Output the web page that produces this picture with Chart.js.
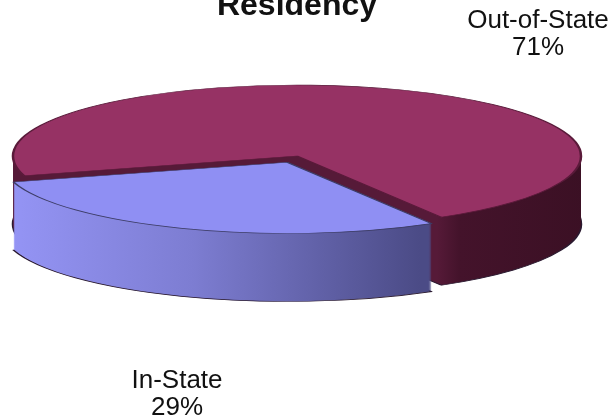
<!DOCTYPE html>
<html>
<head>
<meta charset="utf-8">
<script src="https://cdn.jsdelivr.net/npm/chart.js@4/dist/chart.umd.min.js"></script>
<style>
  html, body { margin: 0; padding: 0; background: #fff; }
  #wrap { width: 615px; height: 420px; }
</style>
</head>
<body>
<div id="wrap"><canvas id="pie" width="615" height="420"></canvas></div>
<script>
// data
const categories = ['In-State', 'Out-of-State'];
const shares = [29, 71];
const chartTitle = 'Residency';

// look
const topColors = ['#8f8ff3', '#963264'];
const explode = [68, 0];
const pieCenter = { x: 297, y: 156 };
const pieRadii = { x: 284, y: 71 };
const pieDepth = 68;
const labelSpots = [[177, 388], [538, 28]];

// fake 3d: squash the chart.js arcs into an ellipse and stack copies for the rim
const pie3d = {
    id: 'pie3d',
    beforeDatasetsDraw(chart) {
        const ctx = chart.ctx;
        const arcs = chart.getDatasetMeta(0).data;
        const r = arcs[0].outerRadius;
        const sx = pieRadii.x / r, sy = pieRadii.y / r;
        const ax = arcs[0].x, ay = arcs[0].y;
        const toUserX = px => ax + (px - pieCenter.x) / sx;

        const blueSide = ctx.createLinearGradient(toUserX(15), 0, toUserX(430), 0);
        blueSide.addColorStop(0, '#9595f6');
        blueSide.addColorStop(0.45, '#7d7dd2');
        blueSide.addColorStop(1, '#4b4b86');
        const redSide = ctx.createLinearGradient(toUserX(437), 0, toUserX(585), 0);
        redSide.addColorStop(0, '#561a38');
        redSide.addColorStop(0.15, '#44132b');
        redSide.addColorStop(1, '#3b1024');
        const sideColors = [blueSide, redSide];

        const place = dy => {
            ctx.translate(pieCenter.x, pieCenter.y + dy);
            ctx.scale(sx, sy);
            ctx.translate(-ax, -ay);
        };
        const paint = (arc, fill, stroke) => {
            const saved = arc.options;
            arc.options = Object.assign({}, saved, {
                backgroundColor: fill,
                borderColor: stroke || fill,
                borderWidth: stroke ? 1.6 : 0
            });
            arc.draw(ctx);
            arc.options = saved;
        };

        // back slice first, front slice after
        [1, 0].forEach(i => {
            for (let dy = pieDepth; dy >= 1; dy--) {
                ctx.save();
                place(dy);
                paint(arcs[i], sideColors[i], dy === pieDepth ? '#2a1a30' : null);
                ctx.restore();
            }
        });
        [1, 0].forEach(i => {
            ctx.save();
            place(0);
            paint(arcs[i], topColors[i], i === 0 ? '#3d3d66' : '#5a1a3a');
            ctx.restore();
        });
        return false;
    },
    afterDraw(chart) {
        const ctx = chart.ctx;
        const total = shares.reduce((a, b) => a + b, 0);
        ctx.save();
        ctx.fillStyle = '#111';
        ctx.textAlign = 'center';
        ctx.textBaseline = 'alphabetic';
        ctx.font = 'bold 32px "Liberation Sans", Arial, sans-serif';
        ctx.fillText(chartTitle, 297, 15);
        ctx.font = '26px "Liberation Sans", Arial, sans-serif';
        categories.forEach((name, i) => {
            const [x, y] = labelSpots[i];
            ctx.fillText(name, x, y);
            ctx.fillText(Math.round(shares[i] / total * 100) + '%', x, y + 27);
        });
        ctx.restore();
    }
};

new Chart(document.getElementById('pie'), {
    type: 'pie',
    data: {
        labels: categories,
        datasets: [{
            data: shares,
            backgroundColor: topColors,
            borderWidth: 0,
            offset: explode
        }]
    },
    options: {
        responsive: false,
        animation: false,
        devicePixelRatio: 1,
        radius: 180,
        rotation: 149.5,
        plugins: {
            legend: { display: false },
            tooltip: { enabled: false },
            title: { display: false }
        }
    },
    plugins: [pie3d]
});
</script>
</body>
</html>
